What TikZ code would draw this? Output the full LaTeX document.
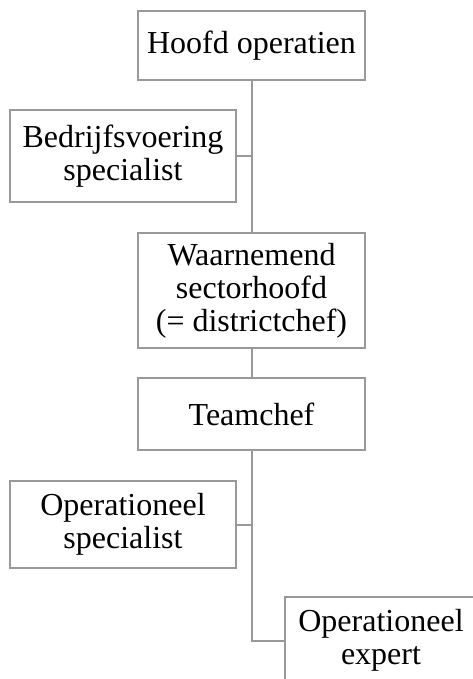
\documentclass[tikz,border=0pt]{standalone}
\usepackage{fontspec}
\setmainfont{Liberation Serif}
\usepackage{tikz}
\usetikzlibrary{calc, positioning}
\definecolor{OrgGray}{RGB}{153,153,153}
\definecolor{OrgBlack}{RGB}{0,0,0}

\begin{document}
\begin{tikzpicture}[scale = 1]%
    %
    \def\boxwidth{227pt}%
    \def\boxline{2pt}%
    %
    \tikzstyle{box} = [draw = OrgGray, line width = \boxline, text = OrgBlack, align = center, inner sep = 0pt, minimum width = \boxwidth, font = \fontsize{32}{33}\selectfont]%
    \tikzstyle{link} = [draw = OrgGray, line width = \boxline]%
    %
    % Frame
    \useasboundingbox (0pt, 0pt) rectangle (472pt, -679pt);%
    %
    % Boxes
    \node (hoofd) [box, minimum height = 69pt] at (251.5pt, -45.5pt) {Hoofd operatien};%
    \node (bedrijf) [box, minimum width = 226pt, minimum height = 92pt] at (123pt, -156pt) {Bedrijfsvoering\\specialist};%
    \node (waarn) [box, minimum height = 115pt] at (251.5pt, -290.5pt) {Waarnemend\\sectorhoofd\\(= districtchef)};%
    \node (team) [box, minimum height = 72pt] at (251.5pt, -414pt) {Teamchef};%
    \node (opspec) [box, minimum width = 226pt, minimum height = 87pt] at (123pt, -524.5pt) {Operationeel\\specialist};%
    \node (opexp) [box, minimum width = 192pt, minimum height = 87pt] at (381pt, -640.5pt) {Operationeel\\expert};%
    %
    \coordinate (j1) at (hoofd.south |- bedrijf.east);%
    \coordinate (j2) at (team.south |- opspec.east);%
    %
    % Connectors
    \draw [link] (hoofd.south) -- (waarn.north);%
    \draw [link] (bedrijf.east) -- (j1);%
    \draw [link] (waarn.south) -- (team.north);%
    \draw [link] (team.south) |- (opexp.west);%
    \draw [link] (opspec.east) -- (j2);%
    %
\end{tikzpicture}
\end{document}
